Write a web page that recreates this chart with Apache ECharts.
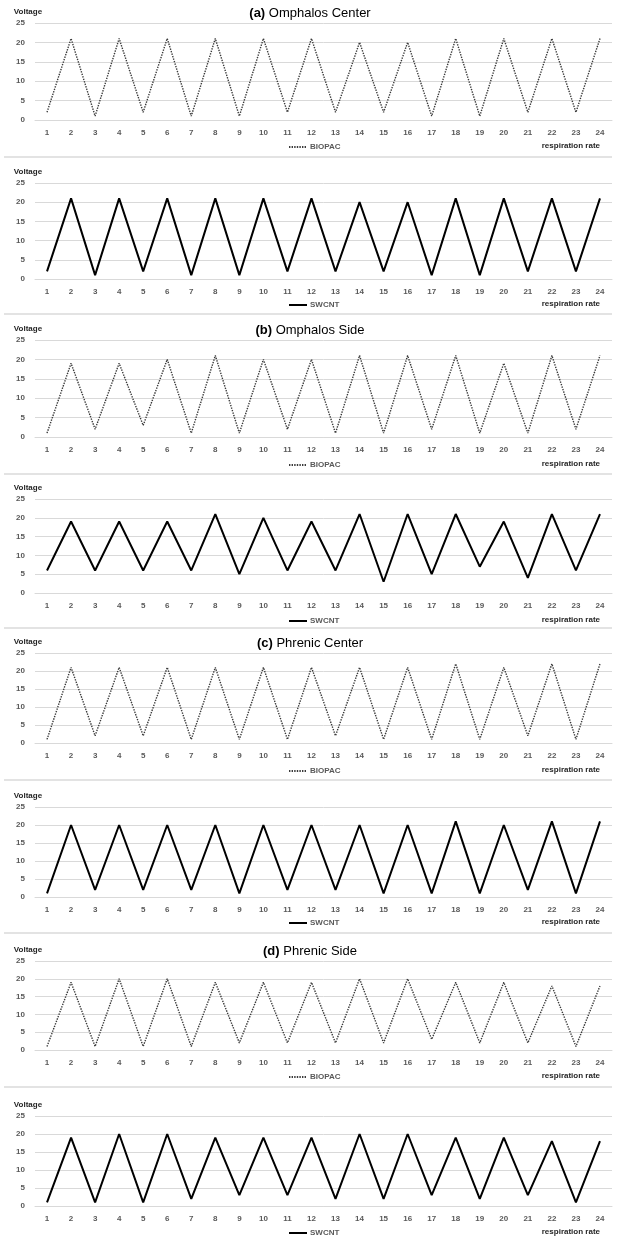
<!DOCTYPE html>
<html>
<head>
<meta charset="utf-8">
<script src="https://cdn.jsdelivr.net/npm/echarts@6/dist/echarts.min.js"></script>
<style>
  html, body { margin: 0; padding: 0; background: #fff; }
  #chart { width: 620px; height: 1237px; }
</style>
</head>
<body>
<div id="chart"></div>
<script>
// respiration rate categories (x axis)
const rates = ["1","2","3","4","5","6","7","8","9","10","11","12","13","14","15","16","17","18","19","20","21","22","23","24"];
const voltageTicks = [0, 5, 10, 15, 20, 25];

// (a) Omphalos Center
const omphalosCenterBiopac = [2,21,1,21,2,21,1,21,1,21,2,21,2,20,2,20,1,21,1,21,2,21,2,21];
const omphalosCenterSwcnt  = [2,21,1,21,2,21,1,21,1,21,2,21,2,20,2,20,1,21,1,21,2,21,2,21];
// (b) Omphalos Side
const omphalosSideBiopac = [1,19,2,19,3,20,1,21,1,20,2,20,1,21,1,21,2,21,1,19,1,21,2,21];
const omphalosSideSwcnt  = [6,19,6,19,6,19,6,21,5,20,6,19,6,21,3,21,5,21,7,19,4,21,6,21];
// (c) Phrenic Center
const phrenicCenterBiopac = [1,21,2,21,2,21,1,21,1,21,1,21,2,21,1,21,1,22,1,21,2,22,1,22];
const phrenicCenterSwcnt  = [1,20,2,20,2,20,2,20,1,20,2,20,2,20,1,20,1,21,1,20,2,21,1,21];
// (d) Phrenic Side
const phrenicSideBiopac = [1,19,1,20,1,20,1,19,2,19,2,19,2,20,2,20,3,19,2,19,2,18,1,18];
const phrenicSideSwcnt  = [1,19,1,20,1,20,2,19,3,19,3,19,2,20,2,20,3,19,2,19,3,18,1,18];

const panels = [
  { label: "(a)", title: "Omphalos Center", name: "BIOPAC", values: omphalosCenterBiopac, top: 23,   height: 97, legend: 146,  sep: 157 },
  { name: "SWCNT", values: omphalosCenterSwcnt,                                           top: 183,  height: 96, legend: 304,  sep: 314 },
  { label: "(b)", title: "Omphalos Side", name: "BIOPAC", values: omphalosSideBiopac,     top: 340,  height: 97, legend: 464,  sep: 474 },
  { name: "SWCNT", values: omphalosSideSwcnt,                                             top: 499,  height: 94, legend: 620,  sep: 628 },
  { label: "(c)", title: "Phrenic Center", name: "BIOPAC", values: phrenicCenterBiopac,   top: 653,  height: 90, legend: 770,  sep: 780 },
  { name: "SWCNT", values: phrenicCenterSwcnt,                                            top: 807,  height: 90, legend: 922,  sep: 933 },
  { label: "(d)", title: "Phrenic Side", name: "BIOPAC", values: phrenicSideBiopac,       top: 961,  height: 89, legend: 1076, sep: 1087 },
  { name: "SWCNT", values: phrenicSideSwcnt,                                              top: 1116, height: 90, legend: 1232, sep: null }
];

const font = "Liberation Sans";
const labelColor = "#595959";
const gridColor = "#d9d9d9";

const chart = echarts.init(document.getElementById("chart"));

const grid = [], xAxis = [], yAxis = [], series = [], legend = [], title = [], graphic = [];

panels.forEach((p, i) => {
  grid.push({ left: 35, right: 8, top: p.top, height: p.height });

  xAxis.push({
    type: "category",
    gridIndex: i,
    data: rates,
    boundaryGap: true,
    axisLine: { lineStyle: { color: gridColor, width: 1 } },
    axisTick: { show: false },
    axisLabel: { margin: 9, color: labelColor, fontSize: 8, fontWeight: "bold", fontFamily: font }
  });

  yAxis.push({
    type: "value",
    gridIndex: i,
    min: voltageTicks[0],
    max: voltageTicks[voltageTicks.length - 1],
    interval: 5,
    name: "Voltage",
    nameLocation: "end",
    nameGap: 7,
    nameTextStyle: { color: "#262626", fontSize: 8, fontWeight: "bold", fontFamily: font, padding: [0, 14, 0, 0] },
    axisLine: { show: false },
    axisTick: { show: false },
    axisLabel: { margin: 10, color: labelColor, fontSize: 8, fontWeight: "bold", fontFamily: font },
    splitLine: { lineStyle: { color: gridColor, width: 1 } }
  });

  const dotted = p.name === "BIOPAC";
  series.push({
    name: p.name,
    type: "line",
    xAxisIndex: i,
    yAxisIndex: i,
    data: p.values,
    symbol: "none",
    animation: false,
    itemStyle: { color: dotted ? "#3a3a3a" : "#000" },
    lineStyle: dotted
      ? { color: "#3a3a3a", width: 1.4, type: [1.4, 1.2] }
      : { color: "#000", width: 2 }
  });

  legend.push({
    data: [p.name],
    left: 283,
    top: p.legend - 8,
    itemWidth: 18,
    itemHeight: 10,
    itemGap: 4,
    itemStyle: { opacity: 0 },
    textStyle: { color: labelColor, fontSize: 8, fontWeight: "bold", fontFamily: font, padding: [0, 0, 0, -2] },
    selectedMode: false
  });

  if (p.title) {
    title.push({
      text: "{b|" + p.label + "} " + p.title,
      left: "center",
      top: p.top - 21,
      textStyle: {
        fontFamily: font,
        fontSize: 13,
        fontWeight: "normal",
        color: "#000",
        rich: { b: { fontFamily: font, fontSize: 13, fontWeight: "bold", color: "#000" } }
      }
    });
  }

  graphic.push({
    type: "text",
    right: 20,
    top: p.legend - 4,
    style: { text: "respiration rate", fill: "#262626", font: "bold 8px " + font }
  });

  if (p.sep) {
    graphic.push({
      type: "line",
      shape: { x1: 4, y1: p.sep, x2: 612, y2: p.sep },
      style: { stroke: "#e3e3e3", lineWidth: 2 }
    });
  }
});

chart.setOption({
  animation: false,
  backgroundColor: "#fff",
  title,
  legend,
  grid,
  xAxis,
  yAxis,
  series,
  graphic
});
</script>
</body>
</html>
